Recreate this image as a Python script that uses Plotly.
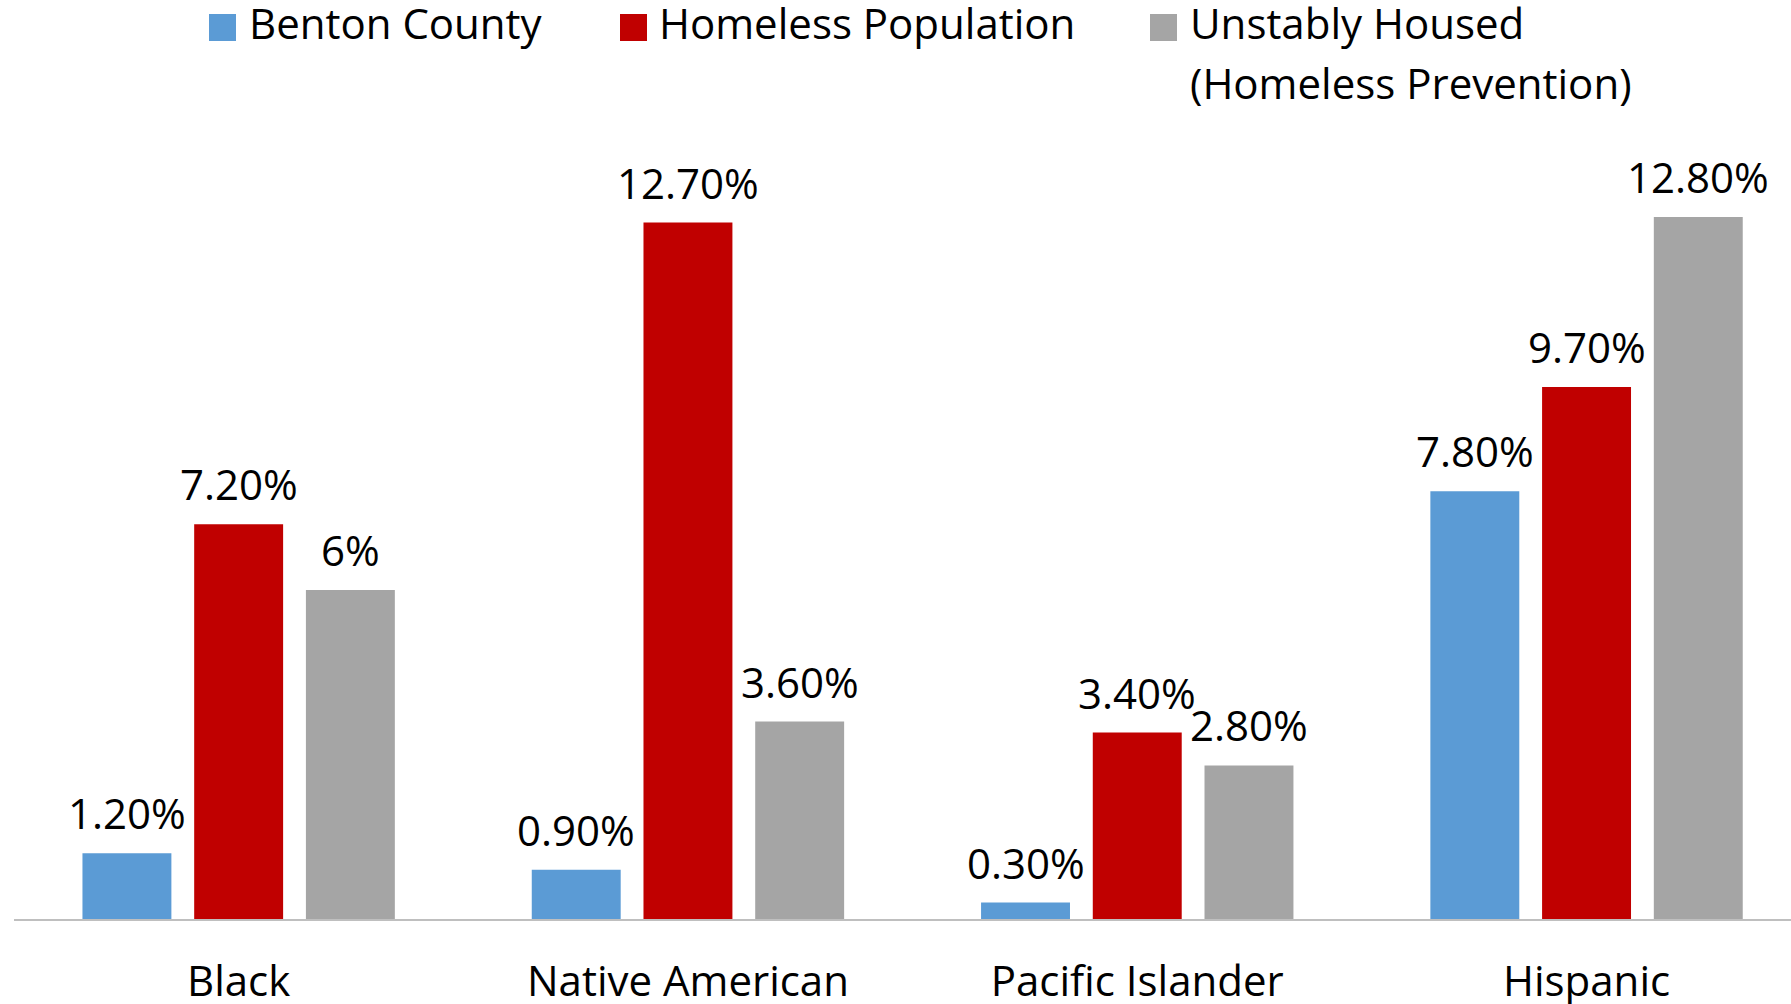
import plotly.graph_objects as go

categories = ["Black", "Native American", "Pacific Islander", "Hispanic"]
series_names = ["Benton County", "Homeless Population", "Unstably Housed<br>(Homeless Prevention)"]
benton = [1.2, 0.9, 0.3, 7.8]
homeless = [7.2, 12.7, 3.4, 9.7]
unstable = [6.0, 3.6, 2.8, 12.8]
benton_labels = ["1.20%", "0.90%", "0.30%", "7.80%"]
homeless_labels = ["7.20%", "12.70%", "3.40%", "9.70%"]
unstable_labels = ["6%", "3.60%", "2.80%", "12.80%"]
colors = ["#5B9BD5", "#C00000", "#A5A5A5"]

FONT = "Open Sans"
W, H = 1791, 1004
L, R, T, B = 14, 0, 140, 85
PW, PH = W - L - R, H - T - B
CAT_PX = 449.3
BARGAP = 0.254
SLOT_PX = CAT_PX * (1 - BARGAP) / 3

def px_x(px):
    return (px - L) / PW

def px_y(py):
    return (H - B - py) / PH

fig = go.Figure()
all_vals = [benton, homeless, unstable]
all_labels = [benton_labels, homeless_labels, unstable_labels]
for j, (name, vals, labels, col) in enumerate(zip(series_names, all_vals, all_labels, colors)):
    fig.add_trace(go.Bar(
        x=categories, y=vals, name=name, marker_color=col,
        marker_line_width=0, showlegend=False,
    ))
    for c, v, lab in zip(categories, vals, labels):
        fig.add_annotation(x=c, y=v, xref="x", yref="y", text=lab, showarrow=False,
                           xanchor="center", yanchor="bottom",
                           xshift=(j - 1) * SLOT_PX, yshift=10,
                           font=dict(family=FONT, size=42, color="#000000"))

# custom legend
legend_sq_x = [209, 620, 1150]
legend_txt_x = [247, 657, 1188]
sq = 27
for name, col, sx, tx in zip(series_names, colors, legend_sq_x, legend_txt_x):
    fig.add_shape(type="rect", xref="paper", yref="paper",
                  x0=px_x(sx), x1=px_x(sx + sq), y0=px_y(27.5 + sq / 2), y1=px_y(27.5 - sq / 2),
                  fillcolor=col, line_width=0)
    for k, line in enumerate(name.split("<br>")):
        fig.add_annotation(xref="paper", yref="paper", x=px_x(tx), y=px_y(22.9 + 59.4 * k),
                           xanchor="left", yanchor="middle", align="left",
                           text=line, showarrow=False,
                           font=dict(family=FONT, size=42, color="#000000"))

fig.update_layout(
    width=W, height=H,
    margin=dict(l=L, r=R, t=T, b=B),
    paper_bgcolor="white", plot_bgcolor="white",
    barmode="group", bargap=BARGAP, bargroupgap=0.204,
    font=dict(family=FONT, size=42, color="#000000"),
    xaxis=dict(range=[-0.5, -0.5 + PW / CAT_PX], showline=True, linecolor="#BFBFBF",
               linewidth=1.5, showgrid=False, zeroline=False, ticks="",
               ticklabelstandoff=25, automargin=False,
               tickfont=dict(family=FONT, size=42, color="#000000")),
    yaxis=dict(range=[0, PH / 54.84], visible=False, showgrid=False, zeroline=False,
               automargin=False),
)

fig.write_html("out.html")
